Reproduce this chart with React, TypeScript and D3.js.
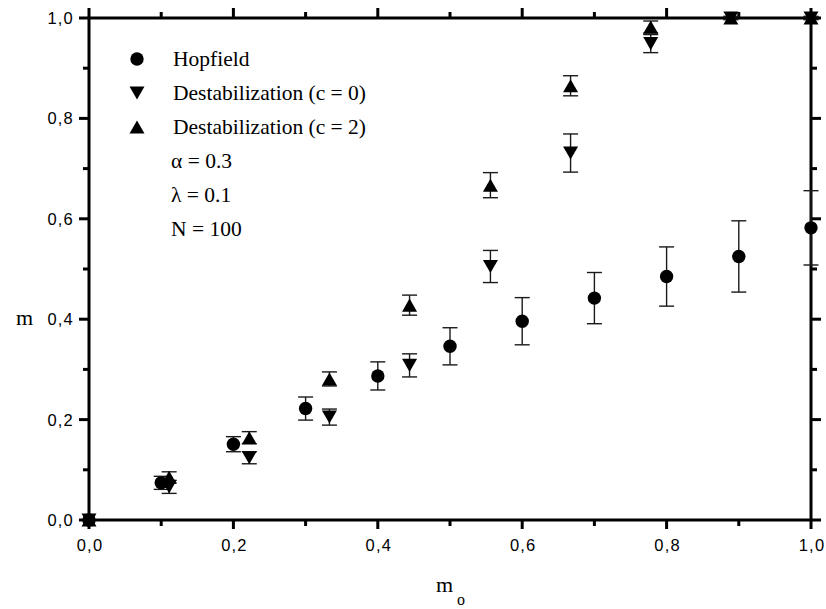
import React from "react";
import * as d3 from "d3";

const hopX = [0, 0.1, 0.2, 0.3, 0.4, 0.5, 0.6, 0.7, 0.8, 0.9, 1.0];
const hopY = [0, 0.074, 0.151, 0.222, 0.287, 0.346, 0.396, 0.442, 0.485, 0.525, 0.582];
const hopErr = [0, 0.013, 0.015, 0.023, 0.028, 0.037, 0.047, 0.051, 0.059, 0.071, 0.074];

const destX = [0, 0.111, 0.222, 0.333, 0.444, 0.556, 0.667, 0.778, 0.889, 1.0];
const dest0Y = [0, 0.066, 0.124, 0.205, 0.308, 0.505, 0.731, 0.949, 1.0, 1.0];
const dest0Err = [0, 0.013, 0.012, 0.016, 0.023, 0.032, 0.038, 0.018, 0.003, 0.003];
const dest2Y = [0, 0.085, 0.164, 0.281, 0.428, 0.667, 0.865, 0.982, 1.0, 1.0];
const dest2Err = [0, 0.011, 0.012, 0.014, 0.02, 0.025, 0.02, 0.012, 0.003, 0.003];

const majorTicks = [0, 0.2, 0.4, 0.6, 0.8, 1.0];
const minorTicks = [0.1, 0.3, 0.5, 0.7, 0.9];
const tickLabels = ["0,0", "0,2", "0,4", "0,6", "0,8", "1,0"];

const legendLabels = ["Hopfield", "Destabilization (c = 0)", "Destabilization (c = 2)"];
const paramLabels = ["\u03b1 = 0.3", "\u03bb = 0.1", "N = 100"];

const triUp = {
  draw(ctx: any, size: number) {
    const w = Math.sqrt(size);
    const h = w * 0.87;
    ctx.moveTo(0, -h / 2);
    ctx.lineTo(w / 2, h / 2);
    ctx.lineTo(-w / 2, h / 2);
    ctx.closePath();
  },
};
const triDown = {
  draw(ctx: any, size: number) {
    const w = Math.sqrt(size);
    const h = w * 0.87;
    ctx.moveTo(0, h / 2);
    ctx.lineTo(w / 2, -h / 2);
    ctx.lineTo(-w / 2, -h / 2);
    ctx.closePath();
  },
};

export default function App() {
  const x = d3.scaleLinear().domain([0, 1]).range([89, 811]);
  const y = d3.scaleLinear().domain([0, 1]).range([520, 18]);
  const circlePath = d3.symbol(d3.symbolCircle, Math.PI * 6.7 * 6.7)()!;
  const upPath = d3.symbol(triUp as any, 15 * 15)()!;
  const downPath = d3.symbol(triDown as any, 15 * 15)()!;
  const capW = 7.5;
  const sans = "'Liberation Sans', Arial, sans-serif";
  const serif = "'Liberation Serif', 'Times New Roman', serif";

  const series = [
    { xs: hopX, ys: hopY, es: hopErr, path: circlePath },
    { xs: destX, ys: dest0Y, es: dest0Err, path: downPath },
    { xs: destX, ys: dest2Y, es: dest2Err, path: upPath },
  ];

  const errorBars = (s: any, si: number) =>
    s.xs.map((xv: number, i: number) => {
      const e = s.es[i];
      if (e <= 0) return null;
      const cx = x(xv);
      const y1 = y(s.ys[i] + e);
      const y2 = y(s.ys[i] - e);
      return (
        <g key={`e${si}-${i}`} stroke="#1a1a1a" strokeWidth={1.4}>
          <line x1={cx} x2={cx} y1={y1} y2={y2} />
          <line x1={cx - capW} x2={cx + capW} y1={y1} y2={y1} />
          <line x1={cx - capW} x2={cx + capW} y1={y2} y2={y2} />
        </g>
      );
    });

  const legendPaths = [circlePath, downPath, upPath];
  const legendBase = [66, 100, 134];
  const paramBase = [168, 202, 236];

  return (
    <svg
      width={826}
      height={609}
      style={{ position: "absolute", left: 0, top: 0, background: "#fff" }}
    >
      <rect x={0} y={0} width={826} height={609} fill="#fff" />
      {/* ticks */}
      <g stroke="#000" strokeWidth={3}>
        {majorTicks.map((t, i) => (
          <g key={`mj${i}`}>
            <line x1={x(t)} x2={x(t)} y1={y(0)} y2={y(0) + 9} />
            <line x1={x(t)} x2={x(t)} y1={y(1)} y2={y(1) - 10} />
            <line x1={x(0)} x2={x(0) - 10} y1={y(t)} y2={y(t)} />
            <line x1={x(1)} x2={x(1) + 10} y1={y(t)} y2={y(t)} />
          </g>
        ))}
        {minorTicks.map((t, i) => (
          <g key={`mn${i}`}>
            <line x1={x(t)} x2={x(t)} y1={y(0)} y2={y(0) + 6} />
            <line x1={x(t)} x2={x(t)} y1={y(1)} y2={y(1) - 6} />
            <line x1={x(0)} x2={x(0) - 6} y1={y(t)} y2={y(t)} />
            <line x1={x(1)} x2={x(1) + 6} y1={y(t)} y2={y(t)} />
          </g>
        ))}
      </g>
      {/* frame */}
      <rect
        x={x(0)}
        y={y(1)}
        width={x(1) - x(0)}
        height={y(0) - y(1)}
        fill="none"
        stroke="#000"
        strokeWidth={3}
      />
      {/* tick labels */}
      <g fontFamily={sans} fontSize={16.5} fill="#000" letterSpacing={1.2}>
        {majorTicks.map((t, i) => (
          <text key={`xl${i}`} x={x(t) + 1} y={551} textAnchor="middle">
            {tickLabels[i]}
          </text>
        ))}
        {majorTicks.map((t, i) => (
          <text key={`yl${i}`} x={74} y={y(t) + 6} textAnchor="end">
            {tickLabels[i]}
          </text>
        ))}
      </g>
      {/* axis titles */}
      <text x={16} y={325} fontFamily={serif} fontSize={22} fill="#000">
        m
      </text>
      <text x={436} y={592} fontFamily={serif} fontSize={22} fill="#000">
        m
      </text>
      <text x={457} y={605} fontFamily={serif} fontSize={16} fill="#000">
        o
      </text>
      {/* data */}
      {series.map((s, si) => errorBars(s, si))}
      {series.map((s, si) =>
        s.xs.map((xv: number, i: number) => (
          <path
            key={`p${si}-${i}`}
            d={s.path}
            transform={`translate(${x(xv)},${y(s.ys[i])})`}
            fill="#000"
          />
        ))
      )}
      {/* legend */}
      {legendLabels.map((l, i) => (
        <g key={`lg${i}`}>
          <path d={legendPaths[i]} transform={`translate(137,${legendBase[i] - 7})`} fill="#000" />
          <text x={173} y={legendBase[i]} fontFamily={serif} fontSize={21.5} fill="#000">
            {l}
          </text>
        </g>
      ))}
      {paramLabels.map((l, i) => (
        <text key={`pm${i}`} x={171} y={paramBase[i]} fontFamily={serif} fontSize={21.5} fill="#000">
          {l}
        </text>
      ))}
    </svg>
  );
}
